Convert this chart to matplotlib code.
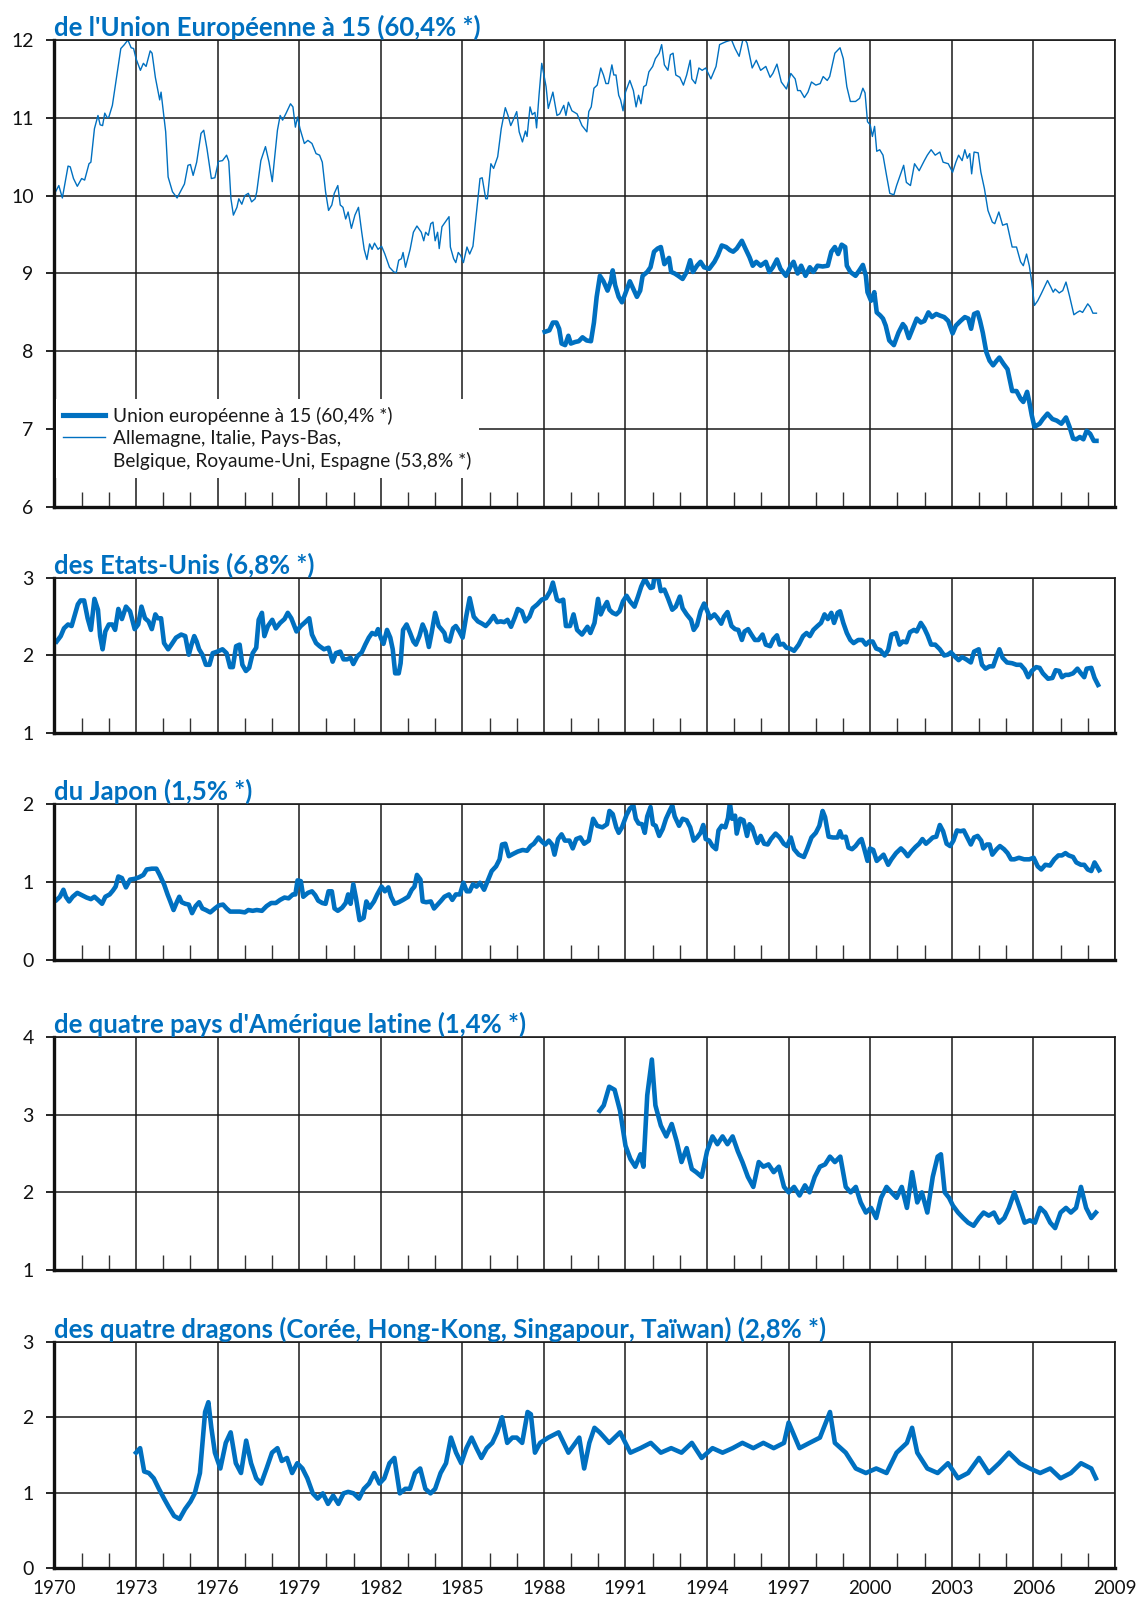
import matplotlib
matplotlib.use("Agg")
import matplotlib.pyplot as plt
from matplotlib.lines import Line2D

plt.rcParams['font.family'] = ['Lato', 'DejaVu Sans']

BLUE = "#0070C0"

# --- six EU countries (thin line, top panel) ---
ue6_years = [
    1970.04, 1970.16, 1970.29, 1970.5, 1970.58, 1970.7, 1970.84, 1971.0, 1971.11, 1971.27,
    1971.34, 1971.47, 1971.6, 1971.68, 1971.77, 1971.85, 1971.94, 1972.0, 1972.13, 1972.28,
    1972.44, 1972.57, 1972.7, 1972.82, 1972.91, 1973.0, 1973.16, 1973.27, 1973.37, 1973.52,
    1973.59, 1973.71, 1973.87, 1973.92, 1974.09, 1974.18, 1974.34, 1974.51, 1974.66, 1974.78,
    1974.91, 1975.0, 1975.1, 1975.23, 1975.39, 1975.49, 1975.61, 1975.77, 1975.9, 1976.03,
    1976.18, 1976.33, 1976.41, 1976.49, 1976.58, 1976.71, 1976.78, 1976.89, 1977.0, 1977.13,
    1977.25, 1977.38, 1977.44, 1977.59, 1977.76, 1977.89, 1978.01, 1978.08, 1978.2, 1978.3,
    1978.39, 1978.52, 1978.68, 1978.77, 1978.86, 1978.94, 1979.03, 1979.19, 1979.32, 1979.47,
    1979.62, 1979.75, 1979.85, 1979.97, 1980.08, 1980.2, 1980.29, 1980.42, 1980.51, 1980.61,
    1980.71, 1980.8, 1980.92, 1981.05, 1981.18, 1981.3, 1981.39, 1981.49, 1981.59, 1981.68,
    1981.77, 1981.9, 1982.03, 1982.15, 1982.32, 1982.48, 1982.57, 1982.66, 1982.76, 1982.82,
    1982.91, 1983.08, 1983.2, 1983.33, 1983.49, 1983.58, 1983.65, 1983.75, 1983.84, 1983.92,
    1984.0, 1984.09, 1984.15, 1984.25, 1984.41, 1984.51, 1984.56, 1984.68, 1984.76, 1984.85,
    1984.94, 1985.04, 1985.17, 1985.27, 1985.39, 1985.52, 1985.65, 1985.73, 1985.86, 1985.92,
    1986.05, 1986.15, 1986.3, 1986.43, 1986.58, 1986.68, 1986.78, 1986.87, 1987.0, 1987.09,
    1987.21, 1987.32, 1987.38, 1987.49, 1987.57, 1987.67, 1987.73, 1987.82, 1987.92, 1988.08,
    1988.16, 1988.33, 1988.48, 1988.58, 1988.73, 1988.81, 1988.9, 1989.03, 1989.22, 1989.4,
    1989.58, 1989.65, 1989.74, 1989.84, 1989.96, 1990.09, 1990.19, 1990.28, 1990.37, 1990.5,
    1990.57, 1990.65, 1990.75, 1990.82, 1990.91, 1991.0, 1991.16, 1991.29, 1991.39, 1991.48,
    1991.57, 1991.67, 1991.76, 1991.86, 1992.0, 1992.1, 1992.24, 1992.33, 1992.43, 1992.56,
    1992.65, 1992.75, 1992.85, 1993.0, 1993.13, 1993.25, 1993.38, 1993.44, 1993.57, 1993.7,
    1993.82, 1993.95, 1994.14, 1994.33, 1994.46, 1994.58, 1994.71, 1994.9, 1995.03, 1995.18,
    1995.34, 1995.47, 1995.66, 1995.81, 1995.97, 1996.16, 1996.32, 1996.42, 1996.57, 1996.73,
    1996.92, 1997.08, 1997.24, 1997.33, 1997.43, 1997.58, 1997.71, 1997.84, 1998.0, 1998.16,
    1998.27, 1998.42, 1998.51, 1998.7, 1998.89, 1999.01, 1999.14, 1999.27, 1999.46, 1999.61,
    1999.73, 1999.81, 1999.9, 2000.0, 2000.08, 2000.16, 2000.24, 2000.35, 2000.47, 2000.6,
    2000.72, 2000.87, 2000.97, 2001.1, 2001.23, 2001.33, 2001.48, 2001.63, 2001.8, 2001.99,
    2002.1, 2002.24, 2002.39, 2002.56, 2002.68, 2002.87, 2003.03, 2003.15, 2003.25, 2003.38,
    2003.48, 2003.57, 2003.66, 2003.73, 2003.82, 2003.97, 2004.07, 2004.2, 2004.33, 2004.49,
    2004.58, 2004.73, 2004.87, 2005.03, 2005.22, 2005.38, 2005.53, 2005.63, 2005.75, 2005.85,
    2005.94, 2006.04, 2006.16, 2006.29, 2006.52, 2006.65, 2006.73, 2006.8, 2006.95, 2007.08,
    2007.2, 2007.33, 2007.49, 2007.61, 2007.71, 2007.81, 2008.0, 2008.09, 2008.19, 2008.32,
]
ue6_values = [
    10.05, 10.13, 9.97, 10.38, 10.37, 10.22, 10.12, 10.22, 10.2, 10.41,
    10.43, 10.86, 11.03, 10.91, 10.9, 11.06, 11.0, 11.01, 11.16, 11.51,
    11.89, 11.94, 12.0, 11.9, 11.89, 11.76, 11.61, 11.7, 11.66, 11.86,
    11.83, 11.52, 11.23, 11.33, 10.82, 10.24, 10.05, 9.97, 10.07, 10.15,
    10.39, 10.4, 10.26, 10.43, 10.8, 10.84, 10.6, 10.22, 10.23, 10.44,
    10.45, 10.52, 10.44, 9.96, 9.75, 9.85, 9.96, 9.89, 10.0, 10.03,
    9.92, 9.96, 10.05, 10.45, 10.63, 10.43, 10.18, 10.43, 10.84, 11.03,
    10.97, 11.06, 11.18, 11.14, 10.88, 11.01, 10.86, 10.67, 10.71, 10.67,
    10.54, 10.52, 10.43, 10.05, 9.81, 9.88, 10.03, 10.13, 9.88, 9.85,
    9.7, 9.79, 9.58, 9.75, 9.85, 9.53, 9.31, 9.18, 9.38, 9.31,
    9.39, 9.31, 9.35, 9.25, 9.08, 9.02, 9.01, 9.17, 9.19, 9.27,
    9.08, 9.31, 9.53, 9.61, 9.53, 9.42, 9.53, 9.49, 9.64, 9.66,
    9.42, 9.53, 9.32, 9.6, 9.68, 9.73, 9.34, 9.19, 9.14, 9.27,
    9.23, 9.14, 9.34, 9.25, 9.35, 9.79, 10.22, 10.23, 9.96, 9.96,
    10.41, 10.35, 10.5, 10.86, 11.13, 11.03, 10.9, 10.97, 11.08, 10.82,
    10.69, 10.83, 10.76, 11.14, 11.04, 11.07, 10.87, 11.29, 11.7, 11.4,
    11.12, 11.33, 11.03, 11.05, 11.16, 11.03, 11.2, 11.09, 11.05, 10.9,
    10.82, 11.08, 11.14, 11.38, 11.42, 11.64, 11.55, 11.44, 11.44, 11.68,
    11.55, 11.55, 11.29, 11.23, 11.09, 11.33, 11.48, 11.35, 11.14, 11.29,
    11.18, 11.4, 11.42, 11.59, 11.66, 11.76, 11.83, 11.94, 11.68, 11.61,
    11.81, 11.83, 11.55, 11.52, 11.42, 11.55, 11.74, 11.5, 11.44, 11.64,
    11.61, 11.64, 11.5, 11.66, 11.94, 11.96, 11.98, 12.0, 11.89, 11.79,
    12.04, 11.96, 11.64, 11.74, 11.61, 11.66, 11.52, 11.57, 11.69, 11.46,
    11.37, 11.57, 11.5, 11.35, 11.35, 11.26, 11.33, 11.46, 11.42, 11.44,
    11.53, 11.48, 11.53, 11.83, 11.9, 11.76, 11.4, 11.21, 11.21, 11.25,
    11.38, 11.32, 10.95, 10.91, 10.76, 10.89, 10.57, 10.59, 10.52, 10.26,
    10.03, 10.01, 10.13, 10.26, 10.39, 10.17, 10.13, 10.41, 10.32, 10.45,
    10.52, 10.59, 10.52, 10.56, 10.43, 10.41, 10.3, 10.43, 10.52, 10.45,
    10.59, 10.48, 10.54, 10.28, 10.56, 10.55, 10.3, 10.09, 9.81, 9.66,
    9.64, 9.79, 9.62, 9.64, 9.34, 9.34, 9.15, 9.1, 9.25, 9.1,
    8.89, 8.59, 8.65, 8.74, 8.91, 8.82, 8.76, 8.8, 8.75, 8.78,
    8.89, 8.71, 8.47, 8.5, 8.52, 8.5, 8.61, 8.57, 8.49, 8.49,
]

# --- EU15 (thick line, top panel) ---
ue15_years = [
    1988.03, 1988.2, 1988.33, 1988.46, 1988.56, 1988.65, 1988.78, 1988.9, 1988.99, 1989.15,
    1989.28, 1989.42, 1989.57, 1989.73, 1989.84, 1989.94, 1990.06, 1990.19, 1990.34, 1990.47,
    1990.53, 1990.62, 1990.75, 1990.87, 1990.97, 1991.16, 1991.29, 1991.42, 1991.54, 1991.63,
    1991.8, 1991.92, 1992.05, 1992.18, 1992.3, 1992.43, 1992.6, 1992.68, 1992.81, 1992.94,
    1993.1, 1993.25, 1993.38, 1993.48, 1993.63, 1993.76, 1993.89, 1994.08, 1994.27, 1994.39,
    1994.54, 1994.7, 1994.84, 1994.96, 1995.09, 1995.28, 1995.41, 1995.56, 1995.68, 1995.81,
    1995.97, 1996.16, 1996.29, 1996.42, 1996.57, 1996.7, 1996.9, 1997.08, 1997.18, 1997.33,
    1997.46, 1997.62, 1997.78, 1997.91, 1998.06, 1998.25, 1998.44, 1998.57, 1998.7, 1998.82,
    1998.95, 1999.08, 1999.14, 1999.27, 1999.46, 1999.6, 1999.73, 1999.84, 1999.9, 2000.03,
    2000.15, 2000.24, 2000.37, 2000.47, 2000.57, 2000.7, 2000.87, 2001.04, 2001.2, 2001.29,
    2001.42, 2001.58, 2001.71, 2001.86, 2001.99, 2002.14, 2002.27, 2002.43, 2002.56, 2002.72,
    2002.87, 2003.03, 2003.15, 2003.32, 2003.48, 2003.61, 2003.71, 2003.82, 2003.95, 2004.04,
    2004.14, 2004.27, 2004.39, 2004.52, 2004.65, 2004.75, 2004.9, 2005.05, 2005.22, 2005.38,
    2005.53, 2005.63, 2005.77, 2005.85, 2005.94, 2006.04, 2006.23, 2006.35, 2006.52, 2006.7,
    2006.86, 2007.03, 2007.2, 2007.33, 2007.46, 2007.58, 2007.71, 2007.84, 2007.96, 2008.09,
    2008.22, 2008.32,
]
ue15_values = [
    8.25, 8.27, 8.37, 8.37, 8.29, 8.1, 8.08, 8.2, 8.1, 8.12,
    8.13, 8.18, 8.14, 8.13, 8.37, 8.7, 8.97, 8.9, 8.78, 8.91,
    9.04, 8.85, 8.7, 8.63, 8.72, 8.9, 8.8, 8.7, 8.78, 8.97,
    9.02, 9.08, 9.28, 9.32, 9.34, 9.12, 9.2, 9.02, 9.0, 8.97,
    8.93, 9.02, 9.17, 9.02, 9.1, 9.15, 9.08, 9.06, 9.15, 9.23,
    9.36, 9.34, 9.3, 9.28, 9.32, 9.42, 9.32, 9.21, 9.1, 9.15,
    9.1, 9.15, 9.02, 9.08, 9.18, 9.06, 8.97, 9.1, 9.15, 9.0,
    9.1, 8.97, 9.08, 9.02, 9.1, 9.09, 9.1, 9.28, 9.34, 9.25,
    9.37, 9.34, 9.1, 9.02, 8.97, 9.04, 9.11, 8.97, 8.76, 8.65,
    8.76, 8.5, 8.46, 8.42, 8.33, 8.14, 8.08, 8.24, 8.35, 8.31,
    8.17, 8.31, 8.42, 8.37, 8.39, 8.5, 8.44, 8.48, 8.46, 8.44,
    8.39, 8.23, 8.33, 8.39, 8.44, 8.42, 8.29, 8.48, 8.5, 8.39,
    8.24, 7.99, 7.88, 7.82, 7.88, 7.92, 7.84, 7.77, 7.49, 7.49,
    7.39, 7.35, 7.48, 7.35, 7.18, 7.03, 7.07, 7.13, 7.2, 7.13,
    7.11, 7.07, 7.15, 7.03, 6.88, 6.87, 6.9, 6.87, 6.98, 6.94,
    6.85, 6.85,
]

# --- United States ---
usa_years = [
    1970.08, 1970.23, 1970.35, 1970.5, 1970.63, 1970.73, 1970.86, 1970.96, 1971.09, 1971.22,
    1971.34, 1971.47, 1971.6, 1971.68, 1971.77, 1971.87, 1972.0, 1972.13, 1972.23, 1972.35,
    1972.48, 1972.63, 1972.78, 1972.95, 1973.08, 1973.2, 1973.33, 1973.46, 1973.58, 1973.71,
    1973.8, 1973.92, 1974.03, 1974.18, 1974.3, 1974.47, 1974.66, 1974.81, 1974.94, 1975.04,
    1975.14, 1975.23, 1975.32, 1975.44, 1975.57, 1975.7, 1975.82, 1975.99, 1976.18, 1976.33,
    1976.46, 1976.56, 1976.68, 1976.81, 1976.91, 1977.04, 1977.16, 1977.29, 1977.42, 1977.51,
    1977.63, 1977.72, 1977.85, 1978.01, 1978.14, 1978.3, 1978.46, 1978.58, 1978.71, 1978.9,
    1979.06, 1979.19, 1979.37, 1979.47, 1979.62, 1979.75, 1979.91, 1980.08, 1980.23, 1980.35,
    1980.51, 1980.63, 1980.76, 1980.89, 1980.99, 1981.14, 1981.3, 1981.43, 1981.56, 1981.68,
    1981.81, 1981.9, 1982.0, 1982.1, 1982.23, 1982.35, 1982.44, 1982.53, 1982.66, 1982.73,
    1982.82, 1982.95, 1983.08, 1983.2, 1983.29, 1983.42, 1983.54, 1983.65, 1983.77, 1983.87,
    1984.0, 1984.13, 1984.25, 1984.34, 1984.4, 1984.53, 1984.66, 1984.76, 1984.89, 1985.01,
    1985.14, 1985.27, 1985.42, 1985.57, 1985.73, 1985.86, 1985.99, 1986.15, 1986.28, 1986.41,
    1986.54, 1986.66, 1986.79, 1986.94, 1987.04, 1987.19, 1987.32, 1987.47, 1987.59, 1987.76,
    1987.92, 1988.08, 1988.23, 1988.33, 1988.48, 1988.58, 1988.71, 1988.81, 1988.96, 1989.09,
    1989.22, 1989.4, 1989.52, 1989.6, 1989.71, 1989.86, 1989.99, 1990.09, 1990.19, 1990.32,
    1990.41, 1990.53, 1990.66, 1990.78, 1990.91, 1991.04, 1991.16, 1991.33, 1991.46, 1991.58,
    1991.71, 1991.84, 1991.92, 1992.01, 1992.09, 1992.18, 1992.3, 1992.43, 1992.56, 1992.72,
    1992.85, 1993.0, 1993.1, 1993.25, 1993.41, 1993.51, 1993.63, 1993.76, 1993.89, 1993.99,
    1994.11, 1994.27, 1994.39, 1994.52, 1994.62, 1994.75, 1994.9, 1995.03, 1995.15, 1995.28,
    1995.38, 1995.51, 1995.63, 1995.76, 1995.89, 1996.04, 1996.16, 1996.32, 1996.44, 1996.57,
    1996.67, 1996.8, 1996.92, 1997.05, 1997.2, 1997.37, 1997.53, 1997.66, 1997.78, 1997.91,
    1998.06, 1998.19, 1998.32, 1998.44, 1998.57, 1998.67, 1998.8, 1998.89, 1999.01, 1999.14,
    1999.27, 1999.39, 1999.56, 1999.71, 1999.84, 1999.96, 2000.09, 2000.22, 2000.37, 2000.53,
    2000.66, 2000.78, 2000.95, 2001.08, 2001.2, 2001.33, 2001.46, 2001.61, 2001.71, 2001.86,
    2001.99, 2002.11, 2002.24, 2002.39, 2002.56, 2002.72, 2002.85, 2002.97, 2003.13, 2003.25,
    2003.38, 2003.53, 2003.7, 2003.82, 2003.99, 2004.11, 2004.24, 2004.39, 2004.52, 2004.65,
    2004.75, 2004.87, 2005.03, 2005.22, 2005.38, 2005.53, 2005.68, 2005.81, 2005.94, 2006.1,
    2006.23, 2006.35, 2006.54, 2006.7, 2006.82, 2006.95, 2007.05, 2007.18, 2007.3, 2007.46,
    2007.62, 2007.75, 2007.87, 2007.96, 2008.13, 2008.25, 2008.38,
]
usa_values = [
    2.18, 2.25, 2.35, 2.4, 2.38, 2.5, 2.66, 2.71, 2.71, 2.48,
    2.33, 2.73, 2.59, 2.25, 2.08, 2.31, 2.4, 2.4, 2.33, 2.6,
    2.47, 2.63, 2.57, 2.34, 2.4, 2.63, 2.48, 2.44, 2.34, 2.53,
    2.48, 2.48, 2.16, 2.08, 2.14, 2.23, 2.27, 2.25, 2.01, 2.14,
    2.25, 2.18, 2.08, 2.01, 1.88, 1.88, 2.03, 2.05, 2.08, 2.03,
    1.85, 1.85, 2.12, 2.14, 1.88, 1.8, 1.84, 2.03, 2.1, 2.46,
    2.55, 2.25, 2.38, 2.46, 2.35, 2.42, 2.47, 2.55, 2.48, 2.31,
    2.38, 2.42, 2.48, 2.27, 2.16, 2.12, 2.08, 2.1, 1.92, 2.03,
    2.05, 1.95, 1.95, 1.97, 1.89, 1.99, 2.04, 2.14, 2.23, 2.29,
    2.27, 2.34, 2.23, 2.15, 2.33, 2.23, 2.08, 1.77, 1.77, 1.9,
    2.33, 2.4, 2.29, 2.18, 2.14, 2.25, 2.4, 2.31, 2.11, 2.29,
    2.55, 2.38, 2.33, 2.29, 2.2, 2.18, 2.35, 2.38, 2.31, 2.23,
    2.5, 2.74, 2.5, 2.44, 2.41, 2.38, 2.43, 2.51, 2.43, 2.44,
    2.43, 2.46, 2.37, 2.5, 2.6, 2.57, 2.44, 2.5, 2.61, 2.66,
    2.72, 2.74, 2.83, 2.94, 2.72, 2.7, 2.72, 2.38, 2.38, 2.53,
    2.33, 2.27, 2.33, 2.37, 2.29, 2.42, 2.73, 2.53, 2.61, 2.69,
    2.59, 2.55, 2.53, 2.57, 2.7, 2.77, 2.7, 2.63, 2.76, 2.89,
    2.99, 2.91, 2.87, 2.88, 3.09, 3.04, 2.83, 2.85, 2.74, 2.59,
    2.63, 2.76, 2.61, 2.53, 2.46, 2.33, 2.39, 2.57, 2.67, 2.59,
    2.48, 2.53, 2.48, 2.41, 2.5, 2.56, 2.38, 2.34, 2.33, 2.2,
    2.31, 2.34, 2.27, 2.2, 2.2, 2.27, 2.14, 2.12, 2.21, 2.26,
    2.14, 2.15, 2.1, 2.09, 2.06, 2.14, 2.25, 2.29, 2.25, 2.33,
    2.38, 2.42, 2.53, 2.47, 2.55, 2.42, 2.55, 2.57, 2.42, 2.29,
    2.2, 2.16, 2.2, 2.2, 2.14, 2.18, 2.18, 2.09, 2.07, 2.0,
    2.07, 2.27, 2.29, 2.14, 2.18, 2.17, 2.3, 2.33, 2.31, 2.42,
    2.35, 2.26, 2.14, 2.14, 2.08, 2.0, 2.01, 2.04, 1.98, 1.94,
    1.98, 1.95, 1.91, 2.05, 2.08, 1.88, 1.83, 1.86, 1.86, 1.99,
    2.08, 1.97, 1.91, 1.9, 1.88, 1.88, 1.82, 1.72, 1.8, 1.85,
    1.84, 1.77, 1.7, 1.71, 1.81, 1.8, 1.72, 1.75, 1.75, 1.77,
    1.83, 1.77, 1.72, 1.83, 1.84, 1.71, 1.62,
]

# --- Japan ---
jap_years = [
    1970.08, 1970.2, 1970.33, 1970.42, 1970.54, 1970.67, 1970.84, 1971.01, 1971.18, 1971.34,
    1971.47, 1971.6, 1971.75, 1971.87, 1972.03, 1972.15, 1972.25, 1972.35, 1972.48, 1972.63,
    1972.78, 1972.95, 1973.11, 1973.27, 1973.39, 1973.58, 1973.75, 1973.87, 1974.03, 1974.16,
    1974.25, 1974.38, 1974.51, 1974.59, 1974.68, 1974.81, 1974.94, 1975.06, 1975.19, 1975.32,
    1975.44, 1975.57, 1975.73, 1975.9, 1976.05, 1976.2, 1976.33, 1976.46, 1976.62, 1976.81,
    1977.0, 1977.13, 1977.29, 1977.44, 1977.63, 1977.8, 1977.97, 1978.14, 1978.3, 1978.46,
    1978.61, 1978.77, 1978.86, 1978.94, 1979.06, 1979.15, 1979.32, 1979.47, 1979.59, 1979.7,
    1979.85, 1979.97, 1980.08, 1980.2, 1980.3, 1980.42, 1980.58, 1980.71, 1980.8, 1980.89,
    1980.99, 1981.09, 1981.22, 1981.37, 1981.47, 1981.59, 1981.75, 1981.87, 1982.03, 1982.15,
    1982.28, 1982.38, 1982.51, 1982.66, 1982.82, 1983.01, 1983.14, 1983.24, 1983.33, 1983.46,
    1983.54, 1983.67, 1983.84, 1983.96, 1984.09, 1984.22, 1984.34, 1984.51, 1984.63, 1984.76,
    1984.91, 1985.04, 1985.16, 1985.27, 1985.39, 1985.52, 1985.65, 1985.8, 1985.95, 1986.08,
    1986.24, 1986.37, 1986.46, 1986.58, 1986.71, 1986.87, 1987.04, 1987.22, 1987.38, 1987.51,
    1987.63, 1987.8, 1987.92, 1988.05, 1988.18, 1988.3, 1988.39, 1988.52, 1988.65, 1988.77,
    1988.94, 1989.06, 1989.19, 1989.34, 1989.48, 1989.65, 1989.81, 1989.96, 1990.15, 1990.32,
    1990.41, 1990.53, 1990.66, 1990.75, 1990.87, 1991.04, 1991.16, 1991.29, 1991.38, 1991.48,
    1991.61, 1991.71, 1991.8, 1991.92, 1992.01, 1992.11, 1992.24, 1992.37, 1992.49, 1992.62,
    1992.72, 1992.81, 1992.97, 1993.1, 1993.25, 1993.38, 1993.51, 1993.63, 1993.76, 1993.86,
    1993.95, 1994.08, 1994.2, 1994.33, 1994.42, 1994.54, 1994.67, 1994.77, 1994.84, 1994.92,
    1995.03, 1995.09, 1995.22, 1995.34, 1995.47, 1995.56, 1995.66, 1995.76, 1995.85, 1995.97,
    1996.1, 1996.23, 1996.35, 1996.52, 1996.67, 1996.82, 1996.94, 1997.08, 1997.2, 1997.37,
    1997.56, 1997.68, 1997.84, 1998.0, 1998.13, 1998.25, 1998.34, 1998.47, 1998.63, 1998.8,
    1998.89, 1998.97, 1999.1, 1999.2, 1999.33, 1999.46, 1999.61, 1999.68, 1999.77, 1999.9,
    1999.99, 2000.11, 2000.24, 2000.37, 2000.49, 2000.66, 2000.78, 2000.95, 2001.13, 2001.25,
    2001.38, 2001.51, 2001.67, 2001.8, 2001.92, 2002.05, 2002.18, 2002.3, 2002.43, 2002.56,
    2002.68, 2002.81, 2002.94, 2003.06, 2003.19, 2003.32, 2003.44, 2003.57, 2003.7, 2003.82,
    2003.95, 2004.08, 2004.16, 2004.29, 2004.39, 2004.49, 2004.65, 2004.77, 2004.92, 2005.05,
    2005.18, 2005.3, 2005.47, 2005.66, 2005.85, 2006.01, 2006.16, 2006.29, 2006.44, 2006.61,
    2006.77, 2006.92, 2007.05, 2007.18, 2007.3, 2007.46, 2007.58, 2007.75, 2007.87, 2008.0,
    2008.13, 2008.25, 2008.32, 2008.42,
]
jap_values = [
    0.77, 0.81, 0.9, 0.81, 0.75, 0.81, 0.86, 0.83, 0.8, 0.78,
    0.81, 0.77, 0.72, 0.81, 0.84, 0.89, 0.94, 1.07, 1.05, 0.93,
    1.03, 1.04, 1.06, 1.09, 1.16, 1.17, 1.17, 1.09, 0.97, 0.84,
    0.76, 0.64, 0.75, 0.81, 0.74, 0.72, 0.71, 0.6, 0.69, 0.74,
    0.66, 0.64, 0.61, 0.66, 0.7, 0.71, 0.66, 0.62, 0.62, 0.62,
    0.61, 0.64, 0.63, 0.64, 0.63, 0.69, 0.73, 0.73, 0.77, 0.8,
    0.79, 0.84, 0.84, 1.02, 1.01, 0.81, 0.86, 0.88, 0.83, 0.76,
    0.73, 0.72, 0.88, 0.88, 0.66, 0.63, 0.67, 0.73, 0.84, 0.72,
    0.97, 0.79, 0.51, 0.54, 0.75, 0.67, 0.75, 0.84, 0.94, 0.88,
    0.93, 0.81, 0.72, 0.74, 0.77, 0.81, 0.9, 0.94, 1.09, 1.03,
    0.75, 0.74, 0.75, 0.66, 0.71, 0.76, 0.81, 0.84, 0.77, 0.84,
    0.84, 0.99, 0.88, 0.88, 0.97, 0.94, 0.99, 0.9, 1.03, 1.14,
    1.2, 1.29, 1.48, 1.49, 1.33, 1.36, 1.39, 1.41, 1.4, 1.46,
    1.49, 1.57, 1.52, 1.48, 1.53, 1.48, 1.35, 1.55, 1.61, 1.53,
    1.53, 1.43, 1.55, 1.57, 1.49, 1.53, 1.81, 1.72, 1.7, 1.74,
    1.91, 1.87, 1.7, 1.63, 1.7, 1.86, 1.94, 1.98, 1.81, 1.75,
    1.74, 1.63, 1.84, 1.96, 1.74, 1.72, 1.59, 1.68, 1.81, 1.91,
    1.98, 1.84, 1.72, 1.81, 1.79, 1.7, 1.53, 1.57, 1.63, 1.73,
    1.55, 1.53, 1.46, 1.42, 1.66, 1.72, 1.7, 1.82, 2.01, 1.81,
    1.85, 1.62, 1.81, 1.79, 1.59, 1.74, 1.7, 1.59, 1.5, 1.59,
    1.49, 1.48, 1.55, 1.62, 1.57, 1.49, 1.46, 1.57, 1.42, 1.35,
    1.32, 1.42, 1.57, 1.63, 1.72, 1.91, 1.83, 1.58, 1.57, 1.57,
    1.65, 1.57, 1.58, 1.44, 1.42, 1.46, 1.53, 1.55, 1.44, 1.27,
    1.43, 1.41, 1.27, 1.31, 1.35, 1.22, 1.29, 1.37, 1.43, 1.39,
    1.33, 1.39, 1.45, 1.49, 1.55, 1.49, 1.53, 1.57, 1.58, 1.73,
    1.65, 1.49, 1.46, 1.53, 1.66, 1.65, 1.66, 1.57, 1.48, 1.57,
    1.59, 1.53, 1.43, 1.48, 1.48, 1.35, 1.42, 1.46, 1.42, 1.37,
    1.29, 1.29, 1.31, 1.29, 1.29, 1.31, 1.2, 1.16, 1.22, 1.21,
    1.29, 1.34, 1.34, 1.37, 1.34, 1.32, 1.25, 1.22, 1.22, 1.16,
    1.14, 1.25, 1.21, 1.15,
]

# --- four Latin American countries ---
latam_years = [
    1990.05, 1990.2, 1990.4, 1990.6, 1990.8, 1991.0, 1991.18, 1991.36, 1991.55, 1991.66,
    1991.8, 1991.97, 1992.1, 1992.3, 1992.5, 1992.7, 1992.88, 1993.06, 1993.25, 1993.44,
    1993.6, 1993.8, 1994.0, 1994.2, 1994.38, 1994.57, 1994.75, 1994.94, 1995.13, 1995.3,
    1995.5, 1995.7, 1995.9, 1996.07, 1996.26, 1996.45, 1996.64, 1996.83, 1997.0, 1997.2,
    1997.4, 1997.6, 1997.77, 1997.96, 1998.15, 1998.34, 1998.52, 1998.7, 1998.9, 1999.1,
    1999.28, 1999.47, 1999.65, 1999.84, 2000.03, 2000.22, 2000.4, 2000.6, 2000.78, 2000.97,
    2001.16, 2001.35, 2001.54, 2001.73, 2001.9, 2002.1, 2002.3, 2002.48, 2002.6, 2002.74,
    2002.9, 2003.04, 2003.23, 2003.42, 2003.6, 2003.8, 2004.0, 2004.17, 2004.36, 2004.55,
    2004.74, 2004.93, 2005.1, 2005.3, 2005.5, 2005.68, 2005.87, 2006.06, 2006.25, 2006.43,
    2006.62, 2006.8, 2007.0, 2007.2, 2007.38, 2007.57, 2007.75, 2007.94, 2008.13, 2008.3,
]
latam_values = [
    3.05, 3.12, 3.36, 3.32, 3.05, 2.6, 2.43, 2.33, 2.49, 2.33,
    3.25, 3.71, 3.12, 2.86, 2.72, 2.88, 2.66, 2.39, 2.57, 2.3,
    2.26, 2.2, 2.53, 2.72, 2.62, 2.72, 2.62, 2.72, 2.53, 2.39,
    2.2, 2.07, 2.39, 2.33, 2.36, 2.26, 2.33, 2.07, 2.0, 2.07,
    1.96, 2.09, 2.0, 2.2, 2.33, 2.36, 2.46, 2.39, 2.46, 2.07,
    2.0, 2.07, 1.87, 1.74, 1.8, 1.67, 1.93, 2.07, 2.0, 1.93,
    2.07, 1.8, 2.26, 1.87, 2.0, 1.74, 2.2, 2.46, 2.49, 2.0,
    1.93, 1.83, 1.74, 1.67, 1.61, 1.57, 1.67, 1.74, 1.7, 1.74,
    1.61, 1.67, 1.8, 2.0, 1.8, 1.61, 1.64, 1.61, 1.8, 1.74,
    1.61, 1.54, 1.74, 1.8, 1.74, 1.8, 2.07, 1.8, 1.67, 1.74,
]

# --- four dragons ---
drag_years = [
    1973.0, 1973.15, 1973.3, 1973.47, 1973.65, 1973.84, 1974.03, 1974.2, 1974.4, 1974.6,
    1974.8, 1975.0, 1975.16, 1975.35, 1975.54, 1975.66, 1975.77, 1975.9, 1976.1, 1976.3,
    1976.48, 1976.67, 1976.86, 1977.05, 1977.23, 1977.42, 1977.6, 1977.8, 1978.0, 1978.2,
    1978.36, 1978.55, 1978.74, 1978.93, 1979.12, 1979.3, 1979.5, 1979.68, 1979.87, 1980.06,
    1980.25, 1980.44, 1980.63, 1980.8, 1981.0, 1981.2, 1981.38, 1981.57, 1981.76, 1981.95,
    1982.13, 1982.32, 1982.5, 1982.7, 1982.9, 1983.07, 1983.26, 1983.45, 1983.64, 1983.83,
    1984.0, 1984.2, 1984.4, 1984.58, 1984.77, 1984.96, 1985.15, 1985.34, 1985.52, 1985.7,
    1985.9, 1986.1, 1986.28, 1986.46, 1986.65, 1986.84, 1987.0, 1987.2, 1987.4, 1987.52,
    1987.67, 1987.86, 1988.16, 1988.54, 1988.9, 1989.3, 1989.48, 1989.67, 1989.86, 1990.05,
    1990.4, 1990.8, 1991.18, 1991.55, 1991.93, 1992.3, 1992.68, 1993.06, 1993.44, 1993.8,
    1994.2, 1994.57, 1994.94, 1995.3, 1995.7, 1996.07, 1996.45, 1996.83, 1997.0, 1997.4,
    1997.77, 1998.15, 1998.52, 1998.7, 1999.1, 1999.47, 1999.84, 2000.22, 2000.6, 2000.97,
    2001.35, 2001.54, 2001.73, 2002.1, 2002.48, 2002.86, 2003.23, 2003.6, 2004.0, 2004.36,
    2004.74, 2005.1, 2005.5, 2005.87, 2006.25, 2006.62, 2007.0, 2007.38, 2007.75, 2008.13,
    2008.3,
]
drag_values = [
    1.53, 1.59, 1.28, 1.26, 1.19, 1.05, 0.92, 0.81, 0.69, 0.65,
    0.78, 0.88, 0.99, 1.26, 2.07, 2.2, 1.86, 1.53, 1.32, 1.66,
    1.8, 1.39, 1.26, 1.69, 1.39, 1.19, 1.12, 1.32, 1.53, 1.59,
    1.42, 1.46, 1.26, 1.39, 1.32, 1.19, 0.99, 0.92, 0.99, 0.85,
    0.96, 0.85, 0.99, 1.01, 0.99, 0.92, 1.05, 1.12, 1.26, 1.12,
    1.19, 1.39, 1.46, 0.99, 1.05, 1.05, 1.26, 1.32, 1.05, 0.99,
    1.05, 1.26, 1.39, 1.73, 1.53, 1.39, 1.59, 1.73, 1.59, 1.46,
    1.59, 1.66, 1.8, 2.0, 1.66, 1.73, 1.73, 1.66, 2.07, 2.04,
    1.53, 1.66, 1.73, 1.8, 1.53, 1.73, 1.32, 1.66, 1.86, 1.8,
    1.66, 1.8, 1.53, 1.59, 1.66, 1.53, 1.59, 1.53, 1.66, 1.46,
    1.59, 1.53, 1.59, 1.66, 1.59, 1.66, 1.59, 1.66, 1.93, 1.59,
    1.66, 1.73, 2.07, 1.66, 1.53, 1.32, 1.26, 1.32, 1.26, 1.53,
    1.66, 1.86, 1.53, 1.32, 1.26, 1.39, 1.19, 1.26, 1.46, 1.26,
    1.39, 1.53, 1.39, 1.32, 1.26, 1.32, 1.19, 1.26, 1.39, 1.32,
    1.19,
]

titles = [
    "de l'Union Européenne à 15 (60,4% *)",
    "des Etats-Unis (6,8% *)",
    "du Japon (1,5% *)",
    "de quatre pays d'Amérique latine (1,4% *)",
    "des quatre dragons (Corée, Hong-Kong, Singapour, Taïwan) (2,8% *)",
]
y_ranges = [(6, 12), (1, 3), (0, 2), (1, 4), (0, 3)]

# axes rectangles (left, bottom, width, height) in figure fraction
LEFT, WIDTH = 0.0479, 0.9327
rects = [
    (LEFT, 0.6841, WIDTH, 0.2910),
    (LEFT, 0.5433, WIDTH, 0.0966),
    (LEFT, 0.4019, WIDTH, 0.0972),
    (LEFT, 0.2087, WIDTH, 0.1452),
    (LEFT, 0.0231, WIDTH, 0.1408),
]

THICK = 3.3
THIN = 1.0


def style_axes(ax, ymin, ymax, title, show_years):
    ax.set_xlim(1970, 2009)
    ax.set_ylim(ymin, ymax)
    ax.set_xticks(range(1970, 2010, 3))
    ax.set_xticks(range(1970, 2010), minor=True)
    ax.set_yticks(range(ymin, ymax + 1))
    ax.set_axisbelow(True)
    ax.grid(which="major", color="#1a1a1a", linewidth=1.1)
    ax.tick_params(axis="x", which="major", length=0, labelsize=13.5, pad=9,
                   labelcolor="#111111")
    ax.tick_params(axis="x", which="minor", direction="in", length=11,
                   width=1.0, color="#333333")
    ax.tick_params(axis="y", which="major", direction="out", length=6,
                   width=1.2, labelsize=14, pad=9, labelcolor="#111111")
    if not show_years:
        ax.tick_params(axis="x", labelbottom=False)
    for side in ("top", "right"):
        ax.spines[side].set_linewidth(1.2)
        ax.spines[side].set_color("#1a1a1a")
    for side in ("left", "bottom"):
        ax.spines[side].set_linewidth(2.4)
        ax.spines[side].set_color("#111111")
    ax.set_title(title, loc="left", color=BLUE, fontsize=18.5,
                 fontweight="bold", pad=3)


fig = plt.figure(figsize=(11.37, 16.05), dpi=100)
axes = [fig.add_axes(r) for r in rects]

for i, ax in enumerate(axes):
    style_axes(ax, y_ranges[i][0], y_ranges[i][1], titles[i], i == len(axes) - 1)

ax1, ax2, ax3, ax4, ax5 = axes
ax1.plot(ue6_years, ue6_values, color=BLUE, lw=THIN)
ax1.plot(ue15_years, ue15_values, color=BLUE, lw=THICK, solid_joinstyle="round")
ax2.plot(usa_years, usa_values, color=BLUE, lw=THICK, solid_joinstyle="round")
ax3.plot(jap_years, jap_values, color=BLUE, lw=THICK, solid_joinstyle="round")
ax4.plot(latam_years, latam_values, color=BLUE, lw=THICK, solid_joinstyle="round")
ax5.plot(drag_years, drag_values, color=BLUE, lw=THICK, solid_joinstyle="round")

handles = [
    Line2D([], [], color=BLUE, lw=THICK + 0.4),
    Line2D([], [], color=BLUE, lw=THIN),
    Line2D([], [], color="none"),
]
labels = [
    "Union européenne à 15 (60,4% *)",
    "Allemagne, Italie, Pays-Bas,",
    "Belgique, Royaume-Uni, Espagne (53,8% *)",
]
leg = ax1.legend(handles, labels, loc="lower left", bbox_to_anchor=(0.001, 0.062),
                 borderaxespad=0, frameon=True, fancybox=False, fontsize=13.8,
                 handlelength=2.2, handletextpad=0.4, labelspacing=0.28,
                 borderpad=0.4)
leg.get_frame().set_facecolor("white")
leg.get_frame().set_edgecolor("none")
leg.get_frame().set_alpha(1)
for t in leg.get_texts():
    t.set_color("#1a1a1a")

fig.savefig("out.png", dpi=100)
